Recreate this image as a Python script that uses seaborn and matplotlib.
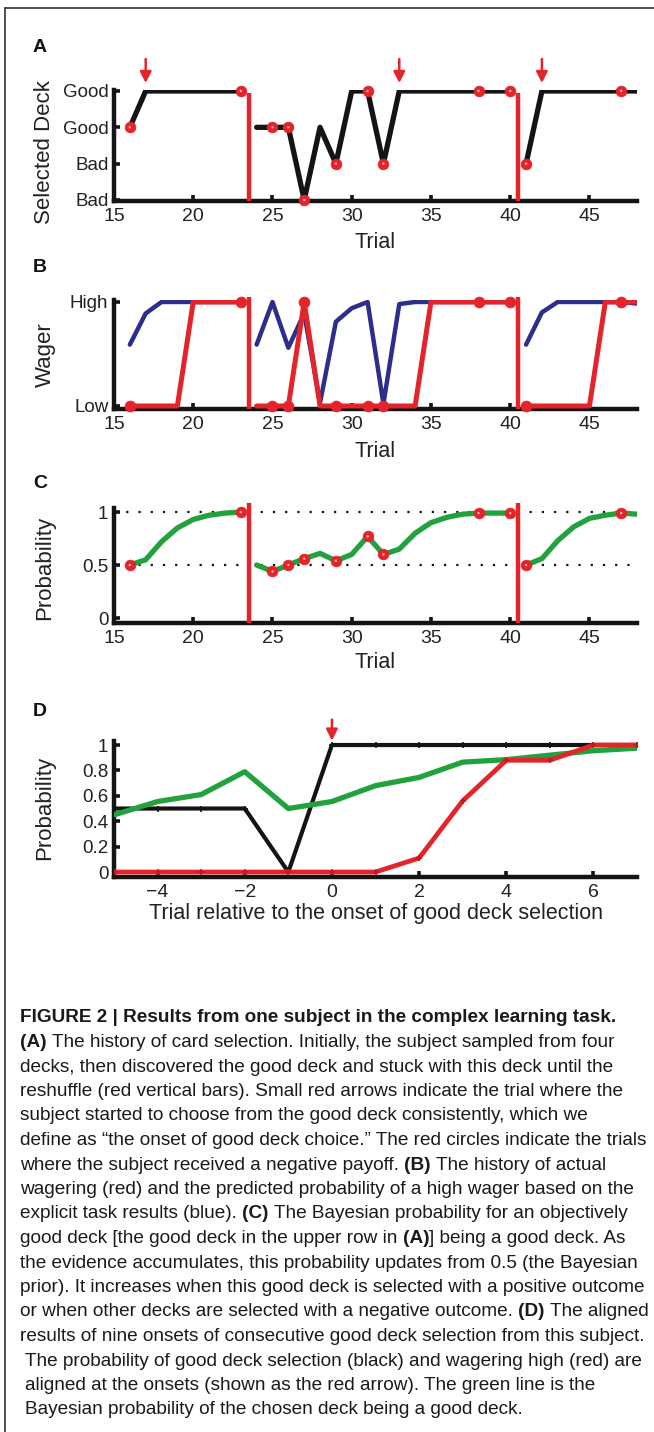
import matplotlib
matplotlib.use("Agg")
import pandas as pd
import matplotlib.pyplot as plt
import seaborn as sns
from matplotlib.transforms import IdentityTransform
from matplotlib.lines import Line2D

# ---------------- data ----------------
trials_1 = list(range(16, 24))
trials_2 = list(range(24, 41))
trials_3 = list(range(41, 49))

# selected deck: 0 = Bad (lower), 1 = Bad, 2 = Good, 3 = Good (upper row)
deck_1 = [2, 3, 3, 3, 3, 3, 3, 3]
deck_2 = [2, 2, 2, 0, 2, 1, 3, 3, 1, 3, 3, 3, 3, 3, 3, 3, 3]
deck_3 = [1, 3, 3, 3, 3, 3, 3, 3]
deck_labels = ["Bad", "Bad", "Good", "Good"]

# actual wager (red) and predicted probability of a high wager (blue)
wager_1 = [0, 0, 0, 0, 1, 1, 1, 1]
wager_2 = [0, 0, 0, 1, 0, 0, 0, 0, 0, 0, 0, 1, 1, 1, 1, 1, 1]
wager_3 = [0, 0, 0, 0, 0, 1, 1, 1]
pred_1 = [0.59, 0.89, 1.0, 1.0, 1.0, 1.0, 1.0, 1.0]
pred_2 = [0.59, 1.0, 0.56, 0.89, 0.03, 0.81, 0.94, 1.0, 0.02, 0.98,
          1.0, 1.0, 1.0, 1.0, 1.0, 1.0, 1.0]
pred_3 = [0.59, 0.90, 1.0, 1.0, 1.0, 1.0, 1.0, 0.985]

# Bayesian probability of the objectively good deck (green)
bayes_1 = [0.5, 0.55, 0.72, 0.85, 0.93, 0.97, 0.99, 1.0]
bayes_2 = [0.5, 0.44, 0.5, 0.56, 0.61, 0.54, 0.6, 0.77, 0.6, 0.65,
           0.8, 0.9, 0.95, 0.98, 0.99, 0.99, 0.99]
bayes_3 = [0.5, 0.56, 0.73, 0.86, 0.94, 0.97, 0.99, 0.98]

negative_trials = [16, 23, 25, 26, 27, 29, 31, 32, 38, 40, 41, 47]
onset_trials = [17, 33, 42]
reshuffles = [23.5, 40.5]

# panel D, aligned at the onset
rel_trial = list(range(-5, 8))
p_good_sel = [0.5, 0.5, 0.5, 0.5, 0.0, 1, 1, 1, 1, 1, 1, 1, 1]
p_wager_high = [0, 0, 0, 0, 0, 0, 0, 0.11, 0.56, 0.88, 0.88, 1.0, 1.0]
p_bayes = [0.45, 0.555, 0.61, 0.79, 0.5, 0.555, 0.68, 0.745, 0.865,
           0.885, 0.92, 0.955, 0.975]

caption = [
    "**FIGURE 2 | Results from one subject in the complex learning task.**",
    "**(A)** The history of card selection. Initially, the subject sampled from four",
    "decks, then discovered the good deck and stuck with this deck until the",
    "reshuffle (red vertical bars). Small red arrows indicate the trial where the",
    "subject started to choose from the good deck consistently, which we",
    "define as \u201cthe onset of good deck choice.\u201d The red circles indicate the trials",
    "where the subject received a negative payoff. **(B)** The history of actual",
    "wagering (red) and the predicted probability of a high wager based on the",
    "explicit task results (blue). **(C)** The Bayesian probability for an objectively",
    "good deck [the good deck in the upper row in **(A)**] being a good deck. As",
    "the evidence accumulates, this probability updates from 0.5 (the Bayesian",
    "prior). It increases when this good deck is selected with a positive outcome",
    "or when other decks are selected with a negative outcome. **(D)** The aligned",
    "results of nine onsets of consecutive good deck selection from this subject.",
    " The probability of good deck selection (black) and wagering high (red) are",
    " aligned at the onsets (shown as the red arrow). The green line is the",
    " Bayesian probability of the chosen deck being a good deck.",
]

# ---------------- tables ----------------
blocks = [1] * len(trials_1) + [2] * len(trials_2) + [3] * len(trials_3)
df = pd.DataFrame({
    "trial": trials_1 + trials_2 + trials_3,
    "block": blocks,
    "deck": deck_1 + deck_2 + deck_3,
    "wager": wager_1 + wager_2 + wager_3,
    "pred": pred_1 + pred_2 + pred_3,
    "bayes": bayes_1 + bayes_2 + bayes_3,
})
neg = df[df["trial"].isin(negative_trials)]
df_d = pd.DataFrame({"rel": rel_trial, "sel": p_good_sel,
                     "wager": p_wager_high, "bayes": p_bayes})

RED = "#e5232a"
BLACK = "#141414"
BLUE = "#2b2e8c"
GREEN = "#22a23c"
W, H = 654, 1432

sns.set_theme(style="ticks")
plt.rcParams["font.family"] = ["Liberation Sans", "DejaVu Sans"]

fig = plt.figure(figsize=(W / 100, H / 100), dpi=100, facecolor="white")


def make_axes(top_px, bottom_px):
    return fig.add_axes([114 / W, 1 - bottom_px / H, 523 / W, (bottom_px - top_px) / H])


def style(ax, xlabel, ylabel, xlab_y, ylab_y):
    sns.despine(ax=ax)
    for s in ["left", "bottom"]:
        ax.spines[s].set_linewidth(3.2)
        ax.spines[s].set_color(BLACK)
    ax.tick_params(direction="in", length=4, width=2.6, color=BLACK, labelcolor="#222222")
    ax.tick_params(axis="x", labelsize=14, pad=5)
    ax.tick_params(axis="y", labelsize=13.5, pad=4)
    ax.set_xlabel(xlabel, fontsize=15.5, color="#222222")
    ax.set_ylabel(ylabel, fontsize=16, color="#222222")
    ax.xaxis.set_label_coords(0.5, xlab_y)
    ax.xaxis.label.set_va("center")
    ax.yaxis.set_label_coords(-0.132, ylab_y)
    ax.yaxis.label.set_va("center")


def red_circles(ax, col):
    sns.scatterplot(data=neg, x="trial", y=col, ax=ax, color=RED, s=60,
                    edgecolor=RED, linewidth=0.5, zorder=6, legend=False, clip_on=False)
    sns.scatterplot(data=neg, x="trial", y=col, ax=ax, color="#f7c2b8", s=3,
                    edgecolor="none", zorder=7, legend=False, clip_on=False)


def reshuffle_bars(ax, y0, y1):
    for xr in reshuffles:
        ax.plot([xr, xr], [y0, y1], color=RED, lw=3.2, solid_capstyle="butt",
                clip_on=False, zorder=4)


arrow_props = dict(arrowstyle="-|>,head_length=0.55,head_width=0.28",
                   color=RED, lw=1.8, mutation_scale=12, shrinkA=0, shrinkB=0)

# ---------------- A ----------------
axA = make_axes(89.9, 200.7)
sns.lineplot(data=df, x="trial", y="deck", units="block", estimator=None,
             ax=axA, color=BLACK, lw=3.8, zorder=3)
red_circles(axA, "deck")
reshuffle_bars(axA, -0.02, 2.95)
for xo in onset_trials:
    axA.annotate("", xy=(xo, 3.22), xytext=(xo, 3.88), annotation_clip=False,
                 arrowprops=arrow_props)
axA.set_xlim(15, 48)
axA.set_ylim(-0.02, 3.03)
axA.set_yticks(range(4))
axA.set_yticklabels(deck_labels)
axA.set_xticks(range(15, 50, 5))
style(axA, "Trial", "Selected Deck", -0.38, 0.44)

# ---------------- B ----------------
axB = make_axes(299.9, 409.1)
sns.lineplot(data=df, x="trial", y="pred", units="block", estimator=None,
             ax=axB, color=BLUE, lw=3.2, zorder=2)
sns.lineplot(data=df, x="trial", y="wager", units="block", estimator=None,
             ax=axB, color=RED, lw=3.6, zorder=3)
sns.scatterplot(data=neg, x="trial", y="wager", ax=axB, color=RED, s=60,
                edgecolor=RED, zorder=6, legend=False, clip_on=False)
reshuffle_bars(axB, -0.03, 1.05)
axB.set_xlim(15, 48)
axB.set_ylim(-0.03, 1.02)
axB.set_yticks([0, 1])
axB.set_yticklabels(["Low", "High"])
axB.set_xticks(range(15, 50, 5))
style(axB, "Trial", "Wager", -0.39, 0.495)

# ---------------- C ----------------
axC = make_axes(507.8, 623.3)
axC.hlines([0.5, 1.0], 15, 47.6, colors=BLACK, lw=1.6, linestyles=(0, (1, 4.5)), zorder=1)
sns.lineplot(data=df, x="trial", y="bayes", units="block", estimator=None,
             ax=axC, color=GREEN, lw=3.8, zorder=3)
red_circles(axC, "bayes")
reshuffle_bars(axC, -0.05, 1.09)
axC.set_xlim(15, 48)
axC.set_ylim(-0.05, 1.04)
axC.set_yticks([0, 0.5, 1])
axC.set_yticklabels(["0", "0.5", "1"])
axC.set_xticks(range(15, 50, 5))
style(axC, "Trial", "Probability", -0.34, 0.48)

# ---------------- D ----------------
axD = make_axes(741.2, 877.1)
sns.lineplot(data=df_d, x="rel", y="sel", ax=axD, color=BLACK, lw=3.0,
             marker="+", markersize=4, markeredgewidth=1.2, markeredgecolor=BLACK, zorder=2)
sns.lineplot(data=df_d, x="rel", y="bayes", ax=axD, color=GREEN, lw=3.8, zorder=3)
sns.lineplot(data=df_d, x="rel", y="wager", ax=axD, color=RED, lw=3.4,
             marker="+", markersize=4, markeredgewidth=1.2, markeredgecolor="#c01a20", zorder=4)
axD.annotate("", xy=(0, 1.035), xytext=(0, 1.2), annotation_clip=False,
             arrowprops=arrow_props)
axD.set_xlim(-5, 7)
axD.set_ylim(-0.04, 1.03)
axD.set_yticks([0, 0.2, 0.4, 0.6, 0.8, 1])
axD.set_yticklabels(["0", "0.2", "0.4", "0.6", "0.8", "1"])
axD.set_xticks([-4, -2, 0, 2, 4, 6])
style(axD, "Trial relative to the onset of good deck selection", "Probability", -0.27, 0.51)

# panel letters
for letter, ypx in zip("ABCD", [47, 268, 483, 712]):
    fig.text(40 / W, 1 - ypx / H, letter, fontsize=14, fontweight="bold",
             ha="center", va="center", color="#111111")

# frame lines (left and top edges of the figure box)
fig.add_artist(Line2D([5 / W, 5 / W], [0, 1 - 8 / H], transform=fig.transFigure,
                      color="#333333", lw=1.2))
fig.add_artist(Line2D([5 / W, 1], [1 - 8 / H, 1 - 8 / H], transform=fig.transFigure,
                      color="#333333", lw=1.2))

# ---------------- caption ----------------
cap_family = ["Liberation Sans Narrow", "Liberation Sans", "DejaVu Sans"]
renderer = fig.canvas.get_renderer()


def text_width(s, weight, size):
    t = fig.text(0, 0, s, fontsize=size, fontweight=weight, family=cap_family,
                 transform=IdentityTransform())
    w = t.get_window_extent(renderer).width
    t.remove()
    return w


ref_line = caption[5]
cap_size = 10 * 632 / text_width(ref_line, "normal", 10)
space_w = text_width("a a", "normal", cap_size) - text_width("aa", "normal", cap_size)

y0, dy, x0 = 1018, 24.5, 20
for i, line in enumerate(caption):
    ypx = H - (y0 + i * dy)
    x = x0
    for j, part in enumerate(line.split("**")):
        if not part:
            continue
        weight = "bold" if j % 2 == 1 else "normal"
        if part.startswith(" "):
            x += space_w
        core = part.strip()
        fig.text(x, ypx, core, fontsize=cap_size, fontweight=weight, family=cap_family,
                 va="center", ha="left", color="#1a1a1a", transform=IdentityTransform())
        x += text_width(core, weight, cap_size)
        if part.endswith(" "):
            x += space_w

fig.savefig("out.png", dpi=100, facecolor="white")
